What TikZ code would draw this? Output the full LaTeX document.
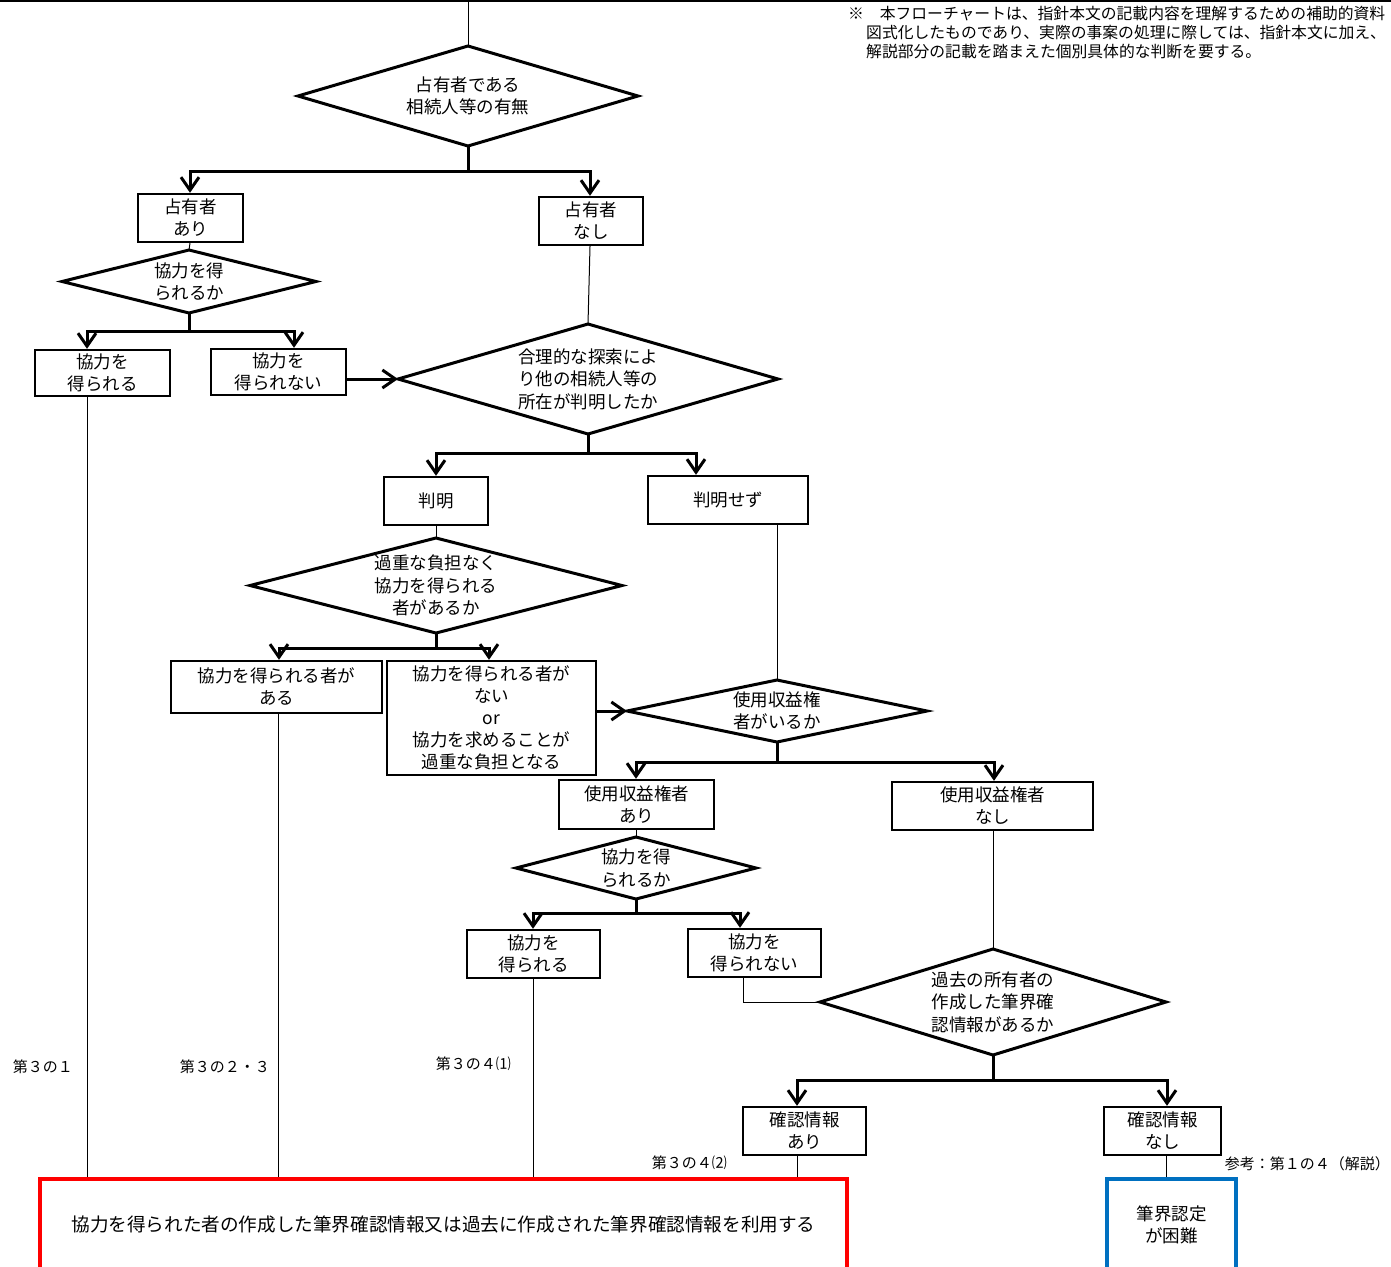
\documentclass[tikz,border=0pt]{standalone}
\usepackage{fontspec}
\setmainfont{Noto Sans CJK JP}
\usetikzlibrary{arrows.meta}
\definecolor{redc}{HTML}{FF0000}
\definecolor{bluec}{HTML}{0070C0}
\tikzset{
  box/.style={draw, line width=2.4pt, inner sep=0pt, align=center, font=\fontsize{17.5}{22}\selectfont},
  diam/.style={draw, line width=3pt, line join=miter},
  dtext/.style={inner sep=0pt, align=center, font=\fontsize{17.5}{22.5}\selectfont},
  thk/.style={line width=3pt},
  arr/.style={line width=3pt, -{Straight Barb[length=13pt,width=18pt]}},
  thn/.style={line width=1pt},
  lbl/.style={font=\fontsize{15}{18}\selectfont, inner sep=0pt, anchor=east},
  note/.style={font=\fontsize{15.8}{19}\selectfont, inner sep=0pt, anchor=west}
}
\newcommand{\mydiam}[6]{%
  \coordinate (#1-n) at (#2,{#3-#5});
  \coordinate (#1-s) at (#2,{#3+#5});
  \coordinate (#1-w) at ({#2-#4},#3);
  \coordinate (#1-e) at ({#2+#4},#3);
  \draw[diam] (#1-n) -- (#1-e) -- (#1-s) -- (#1-w) -- cycle;
  \node[dtext] (#1) at (#2,#3) {#6};
}
\begin{document}
\begin{tikzpicture}[x=1pt,y=-1pt]
\useasboundingbox (0,0) rectangle (1391,1266);
% top edge line
\coordinate (tl) at (0,0.75);
\coordinate (tr) at (1391,0.75);
\draw[line width=1.5pt] (tl) -- (tr);
% note
\node[note] (n1) at (848,14) {※　本フローチャートは、指針本文の記載内容を理解するための補助的資料};
\node[note] (n2) at (866,33) {図式化したものであり、実際の事案の処理に際しては、指針本文に加え、};
\node[note] (n3) at (866,52) {解説部分の記載を踏まえた個別具体的な判断を要する。};

% diamonds
\mydiam{d1}{468}{96}{170}{50}{占有者である\\相続人等の有無}
\mydiam{d2}{189}{281.5}{127}{31.5}{協力を得\\られるか}
\mydiam{d3}{588}{379}{190}{55}{合理的な探索によ\\り他の相続人等の\\所在が判明したか}
\mydiam{d4}{436}{585.5}{186}{47.5}{過重な負担なく\\協力を得られる\\者があるか}
\mydiam{d5}{777}{711}{150}{31}{使用収益権\\者がいるか}
\mydiam{d6}{636}{868}{120}{31}{協力を得\\られるか}
\mydiam{d7}{993}{1002}{173}{53}{過去の所有者の\\作成した筆界確\\認情報があるか}

% boxes
\node[box, minimum width=105pt, minimum height=48pt] (b1) at (190.5,218) {占有者\\あり};
\node[box, minimum width=104pt, minimum height=48pt] (b2) at (591,221) {占有者\\なし};
\node[box, minimum width=135pt, minimum height=46pt] (b3) at (102.5,373) {協力を\\得られる};
\node[box, minimum width=135pt, minimum height=46pt] (b4) at (278.5,372) {協力を\\得られない};
\node[box, minimum width=104pt, minimum height=48pt] (b5) at (436,501) {判明};
\node[box, minimum width=160pt, minimum height=48pt] (b6) at (728,500) {判明せず};
\node[box, minimum width=211pt, minimum height=52pt] (b7) at (276.5,687) {協力を得られる者が\\ある};
\node[box, minimum width=209pt, minimum height=114pt] (b8) at (491.5,718) {協力を得られる者が\\ない\\or\\協力を求めることが\\過重な負担となる};
\node[box, minimum width=155pt, minimum height=49pt] (b9) at (636.5,804.5) {使用収益権者\\あり};
\node[box, minimum width=201pt, minimum height=48pt] (b10) at (992.5,806) {使用収益権者\\なし};
\node[box, minimum width=133pt, minimum height=48pt] (b11) at (533.5,954) {協力を\\得られる};
\node[box, minimum width=133pt, minimum height=48pt] (b12) at (754.5,953) {協力を\\得られない};
\node[box, minimum width=123pt, minimum height=48pt] (b13) at (804.5,1131) {確認情報\\あり};
\node[box, minimum width=117pt, minimum height=48pt] (b14) at (1162.5,1131) {確認情報\\なし};

% result boxes
\node[draw=redc, line width=4.5pt, inner sep=0pt, minimum width=807pt, minimum height=91pt,
      font=\fontsize{18.6}{22}\selectfont] (res) at (443.5,1224.5)
  {協力を得られた者の作成した筆界確認情報又は過去に作成された筆界確認情報を利用する};
\node[draw=bluec, line width=4.5pt, inner sep=0pt, minimum width=129pt, minimum height=91pt, align=center,
      font=\fontsize{17.5}{22}\selectfont] (hard) at (1171.5,1224.5) {筆界認定\\が困難};

% labels
\node[lbl] (l1) at (73,1067) {第３の１};
\node[lbl] (l2) at (270,1067) {第３の２・３};
\node[lbl] (l3) at (511,1064) {第３の４⑴};
\node[lbl] (l4) at (727,1163) {第３の４⑵};
\node[lbl] (l5) at (1390,1164) {参考：第１の４（解説）};

% connectors
\coordinate (top) at (468,0);
\draw[thn] (top) -- (d1-n);

\coordinate (j1) at (468,171);
\draw[thk] (d1-s) -- (j1);
\draw[arr] (j1) -| (190,0 |- b1.north);
\draw[arr] (j1) -| (590,0 |- b2.north);

\draw[thn] (190,0 |- b1.south) -- (d2-n);
\draw[thn] (590,0 |- b2.south) -- (d3-n);

\coordinate (j2) at (189,331);
\draw[thk] (d2-s) -- (j2);
\draw[arr] (j2) -| (87,0 |- b3.north);
\draw[arr] (j2) -| (294,0 |- b4.north);
\draw[arr] (b4.east |- d3-w) -- (d3-w);

\coordinate (j3) at (588,453);
\draw[thk] (d3-s) -- (j3);
\draw[arr] (j3) -| (436,0 |- b5.north);
\draw[arr] (j3) -| (696,0 |- b6.north);

\draw[thn] (b5.south) -- (d4-n);
\draw[thn] (777,0 |- b6.south) -- (d5-n);

\coordinate (j4) at (436,648);
\draw[thk] (d4-s) -- (j4);
\draw[arr] (j4) -| (279,0 |- b7.north);
\draw[arr] (j4) -| (489,0 |- b8.north);
\draw[arr] (b8.east |- d5-w) -- (d5-w);

\coordinate (j5) at (777,762);
\draw[thk] (d5-s) -- (j5);
\draw[arr] (j5) -| (636,0 |- b9.north);
\draw[arr] (j5) -| (994,0 |- b10.north);

\draw[thn] (636,0 |- b9.south) -- (d6-n);
\draw[thn] (993,0 |- b10.south) -- (d7-n);

\coordinate (j6) at (636,913);
\draw[thk] (d6-s) -- (j6);
\draw[arr] (j6) -| (533,0 |- b11.north);
\draw[arr] (j6) -| (740,0 |- b12.north);
\draw[thn] (743,0 |- b12.south) |- (d7-w);

\coordinate (j7) at (993,1080);
\draw[thk] (d7-s) -- (j7);
\draw[arr] (j7) -| (797,0 |- b13.north);
\draw[arr] (j7) -| (1167,0 |- b14.north);

% lines to results
\draw[thn] (87,0 |- b3.south) -- (87,0 |- res.north);
\draw[thn] (278,0 |- b7.south) -- (278,0 |- res.north);
\draw[thn] (533,0 |- b11.south) -- (533,0 |- res.north);
\draw[thn] (797,0 |- b13.south) -- (797,0 |- res.north);
\draw[thn] (1166,0 |- b14.south) -- (1166,0 |- hard.north);
\end{tikzpicture}
\end{document}
